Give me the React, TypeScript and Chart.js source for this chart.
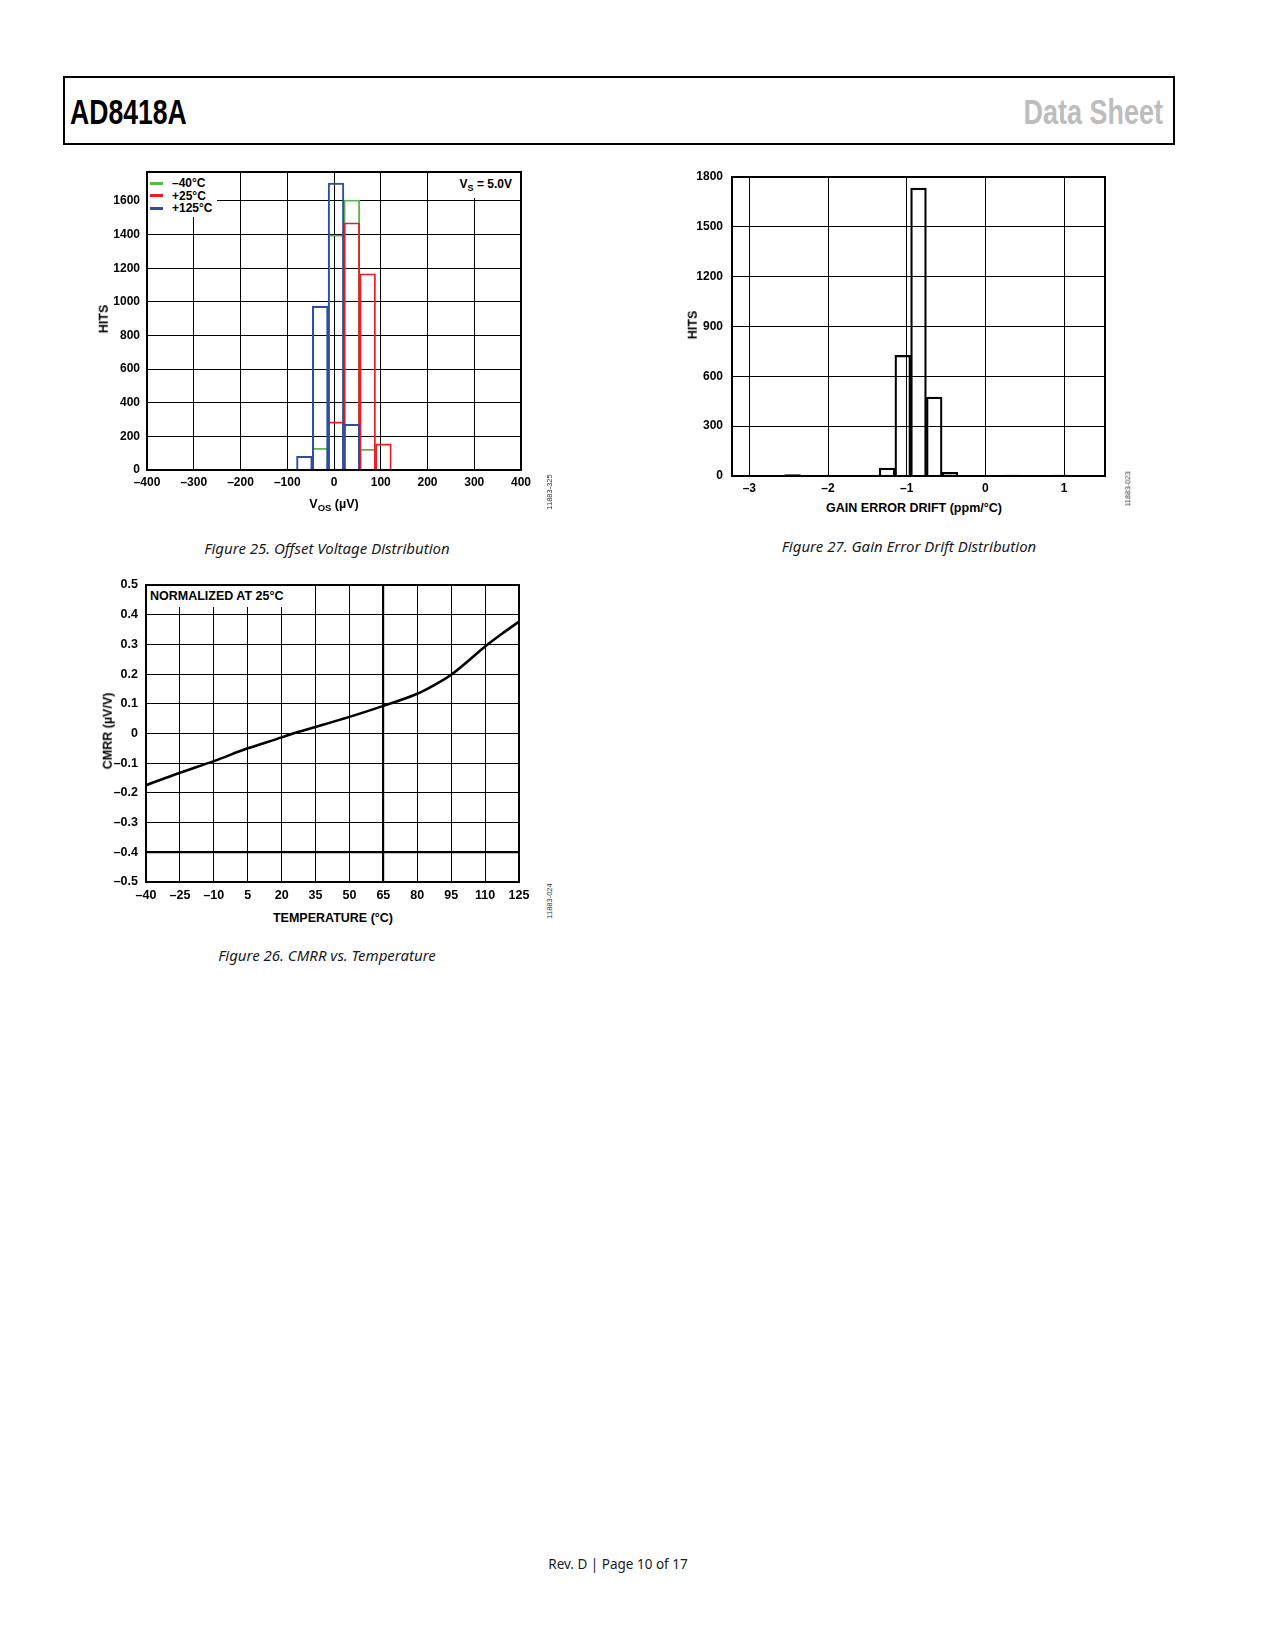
import { useEffect, useRef } from 'react';
import {
  Chart,
  registerables,
  type ChartConfiguration,
  type Plugin,
} from 'chart.js';

Chart.register(...registerables);

// Figure 25: offset voltage distribution, bin centres in µV
const vosBinCenters = [-97.1, -63.3, -29.5, 4.3, 38.1, 71.9, 105.7];
const vosHitsMinus40 = [null, null, 129, 1397, 1605, 123, null];
const vosHits25 = [null, null, 6, 286, 1470, 1167, 155];
const vosHits125 = [6, 81, 974, 1706, 272, 6, null];
const vosTempLabels = ['–40°C', '+25°C', '+125°C'];
const vosTempColors = ['#58b947', '#ed1c24', '#2e4fa0'];
const vosHitTicks = [0, 200, 400, 600, 800, 1000, 1200, 1400, 1600];

// Figure 26: CMRR vs temperature
const cmrrTemps = [-40, -25, -10, 5, 20, 25, 35, 50, 65, 80, 87.5, 95, 102.5, 110, 117.5, 125];
const cmrrValues = [
  -0.174, -0.132, -0.093, -0.05, -0.013, 0, 0.022, 0.056, 0.093, 0.134, 0.163,
  0.198, 0.244, 0.293, 0.336, 0.377,
];

// Figure 27: gain error drift distribution, bin centres in ppm/°C
const gainBinCenters = [
  -3.05, -2.85, -2.65, -2.45, -2.25, -2.05, -1.85, -1.65, -1.45, -1.25, -1.05,
  -0.85, -0.65, -0.45, -0.25, -0.05, 0.15, 0.35, 0.55, 0.75, 0.95,
];
const gainHits = [
  2, 2, 2, 8, 2, 2, 2, 2, 3, 48, 726, 1734, 475, 22, 3, 3, null, 5, null, null, 5,
];

const AXIS_FONT = "'Liberation Sans', Arial, Helvetica, sans-serif";
const TEXT_FONT = "'Noto Sans', 'Open Sans', sans-serif";

Chart.defaults.font.family = AXIS_FONT;
Chart.defaults.color = '#000';

const dash = (v: number | string) => {
  const n = Math.round(Number(v) * 100) / 100;
  return n < 0 ? '–' + Math.abs(n) : String(n);
};

const frame: Plugin = {
  id: 'frame',
  afterDraw(chart) {
    const { ctx, chartArea: a } = chart;
    ctx.save();
    ctx.strokeStyle = '#000';
    ctx.lineWidth = 2;
    ctx.strokeRect(a.left, a.top, a.right - a.left, a.bottom - a.top);
    ctx.restore();
  },
};

const grid = { color: '#000', lineWidth: 1, drawTicks: false, offset: false };
const border = { color: '#000', width: 2 };

const vosConfig: ChartConfiguration<'bar'> = {
  type: 'bar',
  data: {
    datasets: [vosHitsMinus40, vosHits25, vosHits125].map((hits, i) => ({
      label: vosTempLabels[i],
      data: vosBinCenters
        .map((x, j) => ({ x, y: hits[j] }))
        .filter((p) => p.y !== null) as { x: number; y: number }[],
      backgroundColor: 'transparent',
      borderColor: vosTempColors[i],
      borderWidth: i === 2 ? 1.4 : 1.2,
      order: 3 - i,
      grouped: false,
      barPercentage: 1,
      categoryPercentage: 1,
    })),
  },
  options: {
    animation: false,
    responsive: false,
    layout: { padding: { top: 20, right: 19, left: 0, bottom: 0 } },
    plugins: { legend: { display: false }, tooltip: { enabled: false } },
    scales: {
      x: {
        type: 'linear',
        offset: false,
        min: -400,
        max: 400,
        ticks: {
          stepSize: 100,
          padding: 5,
          autoSkip: false,
          maxRotation: 0,
          font: { size: 12, weight: 'bold' },
          callback: dash,
        },
        grid,
        border,
        afterFit: (s) => {
          s.height = 30;
        },
      },
      y: {
        min: 0,
        max: 1772,
        ticks: {
          padding: 7,
          font: { size: 12, weight: 'bold' },
          callback: dash,
        },
        afterBuildTicks: (s) => {
          s.ticks = vosHitTicks.map((value) => ({ value }));
        },
        grid,
        border,
        afterFit: (s) => {
          s.width = 57;
        },
      },
    },
  },
  plugins: [frame],
};

const cmrrConfig: ChartConfiguration<'line'> = {
  type: 'line',
  data: {
    datasets: [
      {
        data: cmrrTemps.map((x, i) => ({ x, y: cmrrValues[i] })),
        borderColor: '#000',
        borderWidth: 2.6,
        pointRadius: 0,
        cubicInterpolationMode: 'monotone',
        fill: false,
      },
    ],
  },
  options: {
    animation: false,
    responsive: false,
    layout: { padding: { top: 20, right: 21, left: 0, bottom: 0 } },
    plugins: { legend: { display: false }, tooltip: { enabled: false } },
    scales: {
      x: {
        type: 'linear',
        min: -40,
        max: 125,
        ticks: {
          stepSize: 15,
          padding: 6,
          autoSkip: false,
          maxRotation: 0,
          font: { size: 12.5, weight: 'bold' },
          callback: dash,
        },
        grid: {
          ...grid,
          lineWidth: (c) => (c.tick && c.tick.value === 65 ? 2.2 : 1),
        },
        border,
        afterFit: (s) => {
          s.height = 20;
        },
      },
      y: {
        min: -0.5,
        max: 0.5,
        ticks: {
          stepSize: 0.1,
          padding: 8,
          font: { size: 12.5, weight: 'bold' },
          callback: (v) => {
            const n = Math.round(Number(v) * 10) / 10;
            if (n === 0) return '0';
            return n < 0 ? '–' + Math.abs(n).toFixed(1) : n.toFixed(1);
          },
        },
        grid: {
          ...grid,
          lineWidth: (c) =>
            c.tick && Math.abs(c.tick.value + 0.4) < 1e-6 ? 2.2 : 1,
        },
        border,
        afterFit: (s) => {
          s.width = 56;
        },
      },
    },
  },
  plugins: [frame],
};

const gainConfig: ChartConfiguration<'bar'> = {
  type: 'bar',
  data: {
    datasets: [
      {
        data: gainBinCenters
          .map((x, i) => ({ x, y: gainHits[i] }))
          .filter((p) => p.y !== null) as { x: number; y: number }[],
        backgroundColor: 'transparent',
        borderColor: '#000',
        borderWidth: 1.6,
        barPercentage: 1,
        categoryPercentage: 1,
      },
    ],
  },
  options: {
    animation: false,
    responsive: false,
    layout: { padding: { top: 20, right: 20, left: 0, bottom: 0 } },
    plugins: { legend: { display: false }, tooltip: { enabled: false } },
    scales: {
      x: {
        type: 'linear',
        offset: false,
        min: -3.22,
        max: 1.52,
        ticks: {
          stepSize: 1,
          includeBounds: false,
          padding: 5,
          autoSkip: false,
          maxRotation: 0,
          font: { size: 12, weight: 'bold' },
          callback: dash,
        },
        grid,
        border,
        afterFit: (s) => {
          s.height = 24;
        },
      },
      y: {
        min: 0,
        max: 1800,
        ticks: {
          stepSize: 300,
          padding: 9,
          font: { size: 12, weight: 'bold' },
          callback: dash,
        },
        grid,
        border,
        afterFit: (s) => {
          s.width = 52;
        },
      },
    },
  },
  plugins: [frame],
};

function ChartCanvas({
  config,
  left,
  top,
  width,
  height,
}: {
  config: ChartConfiguration<any>;
  left: number;
  top: number;
  width: number;
  height: number;
}) {
  const ref = useRef<HTMLCanvasElement>(null);

  useEffect(() => {
    if (!ref.current) return;
    const chart = new Chart(ref.current, config);
    return () => chart.destroy();
  }, [config]);

  return (
    <canvas
      ref={ref}
      width={width}
      height={height}
      style={{ position: 'absolute', left, top, width, height }}
    />
  );
}

// text centred on a point
function CText({ x, y, style, children }: any) {
  return (
    <div
      style={{
        position: 'absolute',
        left: x,
        top: y,
        transform: 'translate(-50%, -50%)',
        whiteSpace: 'nowrap',
        lineHeight: 1,
        ...style,
      }}
    >
      {children}
    </div>
  );
}

// vertical text (reading upward) centred on a point
function VText({ x, y, style, children }: any) {
  return (
    <CText
      x={x}
      y={y}
      style={{ transform: 'translate(-50%, -50%) rotate(-90deg)', ...style }}
    >
      {children}
    </CText>
  );
}

const axisTitle = { fontFamily: AXIS_FONT, fontWeight: 'bold', fontSize: 12.5 };
const caption = { fontFamily: TEXT_FONT, fontStyle: 'italic', fontSize: 15, color: '#1a1a1a' };
const code = { fontFamily: AXIS_FONT, fontSize: 7.5, color: '#333' };
const headFont = {
  position: 'absolute' as const,
  top: 92,
  fontFamily: AXIS_FONT,
  fontWeight: 'bold',
  fontSize: 35,
  lineHeight: '40px',
  whiteSpace: 'nowrap' as const,
};

export default function App() {
  return (
    <div
      style={{
        position: 'absolute',
        left: 0,
        top: 0,
        width: 1275,
        height: 1650,
        background: '#fff',
        overflow: 'hidden',
      }}
    >
      {/* page header */}
      <div
        style={{
          position: 'absolute',
          left: 63,
          top: 76,
          width: 1108,
          height: 65,
          border: '2px solid #000',
        }}
      />
      <div
        style={{
          ...headFont,
          left: 70,
          transform: 'scaleX(0.76)',
          transformOrigin: 'left center',
          color: '#000',
        }}
      >
        AD8418A
      </div>
      <div
        style={{
          ...headFont,
          right: 1275 - 1163,
          transform: 'scaleX(0.77)',
          transformOrigin: 'right center',
          color: '#bdbdbd',
        }}
      >
        Data Sheet
      </div>

      {/* Figure 25 */}
      <ChartCanvas config={vosConfig} left={90} top={152} width={450} height={348} />
      <div
        style={{
          position: 'absolute',
          left: 148,
          top: 173,
          width: 69,
          height: 44,
          background: '#fff',
          fontFamily: AXIS_FONT,
          fontWeight: 'bold',
          fontSize: 12,
        }}
      >
        {vosTempLabels.map((t, i) => (
          <div
            key={t}
            style={{
              position: 'absolute',
              left: 0,
              top: 4 + i * 12.5,
              height: 12.5,
              display: 'flex',
              alignItems: 'center',
              whiteSpace: 'nowrap',
              lineHeight: 1,
            }}
          >
            <span
              style={{
                display: 'inline-block',
                width: 13,
                height: 3,
                marginLeft: 2,
                marginRight: 9,
                background: vosTempColors[i],
              }}
            />
            {t}
          </div>
        ))}
      </div>
      <div
        style={{
          position: 'absolute',
          left: 452,
          top: 173,
          width: 68,
          height: 25,
          background: '#fff',
        }}
      />
      <div
        style={{
          position: 'absolute',
          right: 1275 - 512,
          top: 178,
          fontFamily: AXIS_FONT,
          fontWeight: 'bold',
          fontSize: 12,
          lineHeight: 1,
          whiteSpace: 'nowrap',
        }}
      >
        V<sub style={{ fontSize: 9, verticalAlign: -3 }}>S</sub> = 5.0V
      </div>
      <VText x={104} y={319} style={axisTitle}>
        HITS
      </VText>
      <CText x={334} y={505} style={axisTitle}>
        V<sub style={{ fontSize: 9.5, verticalAlign: -3 }}>OS</sub> (µV)
      </CText>
      <VText x={550} y={492} style={code}>
        11883-325
      </VText>
      <CText x={327} y={548} style={caption}>
        Figure 25. Offset Voltage Distribution
      </CText>

      {/* Figure 26 */}
      <ChartCanvas config={cmrrConfig} left={90} top={565} width={450} height={337} />
      <div
        style={{
          position: 'absolute',
          left: 147,
          top: 586,
          width: 143,
          height: 21,
          background: '#fff',
        }}
      />
      <div
        style={{
          position: 'absolute',
          left: 150,
          top: 590,
          fontFamily: AXIS_FONT,
          fontWeight: 'bold',
          fontSize: 12.5,
          lineHeight: 1,
          whiteSpace: 'nowrap',
        }}
      >
        NORMALIZED AT 25°C
      </div>
      <VText x={108} y={731} style={axisTitle}>
        CMRR (µV/V)
      </VText>
      <CText x={333} y={918} style={axisTitle}>
        TEMPERATURE (°C)
      </CText>
      <VText x={550} y={901} style={code}>
        11883-024
      </VText>
      <CText x={327} y={955} style={caption}>
        Figure 26. CMRR vs. Temperature
      </CText>

      {/* Figure 27 */}
      <ChartCanvas config={gainConfig} left={680} top={157} width={445} height={343} />
      <VText x={693} y={325} style={axisTitle}>
        HITS
      </VText>
      <CText x={914} y={508} style={axisTitle}>
        GAIN ERROR DRIFT (ppm/°C)
      </CText>
      <VText x={1128} y={489} style={code}>
        11883-023
      </VText>
      <CText x={909} y={546} style={caption}>
        Figure 27. Gain Error Drift Distribution
      </CText>

      {/* footer */}
      <CText x={618} y={1565} style={{ fontFamily: TEXT_FONT, fontSize: 13.5, color: '#1a1a1a' }}>
        Rev. D | Page 10 of 17
      </CText>
    </div>
  );
}
